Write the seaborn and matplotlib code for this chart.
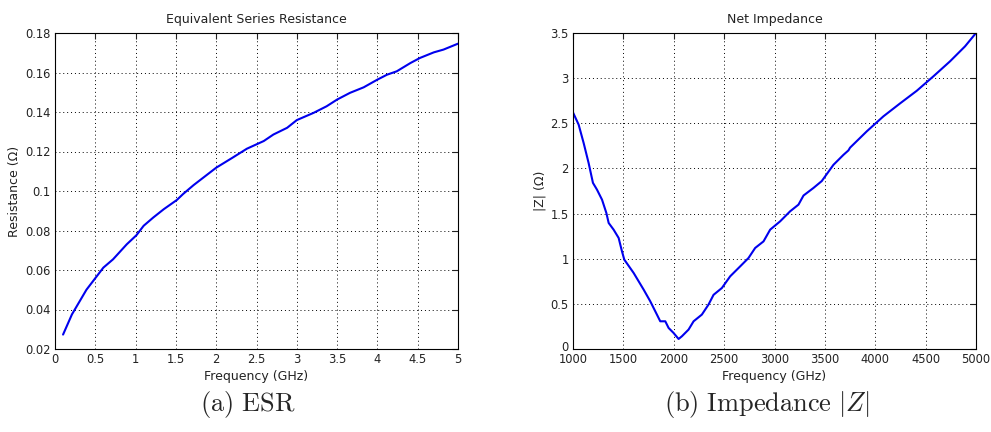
import numpy as np
import pandas as pd
import matplotlib
matplotlib.use("Agg")
import matplotlib.pyplot as plt
import matplotlib.transforms as mtransforms
import seaborn as sns

# ESR data (GHz, Ohm)
esr_freq = [0.10, 0.21, 0.39, 0.60, 0.72, 0.89, 1.01, 1.10, 1.22, 1.35, 1.51, 1.59, 1.72,
            2.00, 2.20, 2.38, 2.59, 2.71, 2.88, 3.00, 3.21, 3.37, 3.50, 3.66, 3.83, 4.00,
            4.12, 4.24, 4.41, 4.53, 4.70, 4.82, 5.00]
esr_res = [0.0273, 0.0375, 0.0500, 0.0612, 0.0654, 0.0730, 0.0776, 0.0824, 0.0866, 0.0908,
           0.0954, 0.0985, 0.1030, 0.1118, 0.1168, 0.1214, 0.1253, 0.1286, 0.1320, 0.1359,
           0.1396, 0.1429, 0.1463, 0.1497, 0.1525, 0.1564, 0.1589, 0.1606, 0.1648, 0.1674,
           0.1702, 0.1716, 0.1746]

# Impedance data (GHz, Ohm)
imp_freq = [1000, 1056, 1106, 1155, 1198, 1238, 1288, 1331, 1354, 1403, 1453, 1486, 1509,
            1602, 1701, 1767, 1833, 1866, 1916, 1949, 1998, 2048, 2081, 2147, 2197, 2279,
            2345, 2395, 2478, 2560, 2660, 2742, 2808, 2891, 2957, 3056, 3155, 3238, 3288,
            3387, 3469, 3585, 3684, 3734, 3750, 3916, 4081, 4246, 4412, 4577, 4742, 4891, 5000]
imp_mag = [2.62, 2.485, 2.28, 2.06, 1.84, 1.765, 1.654, 1.507, 1.396, 1.322, 1.23, 1.082, 0.99,
           0.842, 0.658, 0.528, 0.381, 0.307, 0.307, 0.233, 0.178, 0.111, 0.141, 0.215, 0.307,
           0.381, 0.492, 0.600, 0.676, 0.805, 0.916, 1.008, 1.119, 1.192, 1.322, 1.414, 1.525,
           1.599, 1.70, 1.784, 1.860, 2.040, 2.150, 2.200, 2.230, 2.411, 2.577, 2.720, 2.860,
           3.02, 3.186, 3.352, 3.5]

esr_xticks = [0, 0.5, 1, 1.5, 2, 2.5, 3, 3.5, 4, 4.5, 5]
esr_yticks = [0.02, 0.04, 0.06, 0.08, 0.1, 0.12, 0.14, 0.16, 0.18]
esr_yticklabels = ["0.02", "0.04", "0.06", "0.08", "0.1", "0.12", "0.14", "0.16", "0.18"]
imp_xticks = [1000, 1500, 2000, 2500, 3000, 3500, 4000, 4500, 5000]
imp_yticks = [0, 0.5, 1, 1.5, 2, 2.5, 3, 3.5]
imp_yticklabels = ["0", "0.5", "1", "1.5", "2", "2.5", "3", "3.5"]

sns.set_style("white")
plt.rcParams['font.family'] = ['DejaVu Sans']
plt.rcParams['mathtext.fontset'] = 'cm'

df_esr = pd.DataFrame({"f": esr_freq, "r": esr_res})
df_imp = pd.DataFrame({"f": imp_freq, "z": imp_mag})

fig = plt.figure(figsize=(9.91, 4.32), dpi=100)
W, H = 991, 432
ax1 = fig.add_axes([55 / W, 1 - 349 / H, (458 - 55) / W, (349 - 33) / H])
ax2 = fig.add_axes([573 / W, 1 - 349 / H, (976 - 573) / W, (349 - 33) / H])

blue = "#0000ee"
sns.lineplot(data=df_esr, x="f", y="r", ax=ax1, color=blue, linewidth=1.5)
sns.lineplot(data=df_imp, x="f", y="z", ax=ax2, color=blue, linewidth=1.5)

fs = 8.3
lfs = 9
tc = "#222222"
for ax in (ax1, ax2):
    for s in ax.spines.values():
        s.set_color("black")
        s.set_linewidth(0.8)
    ax.grid(True, linestyle=(0, (1, 3)), color="black", linewidth=0.7)
    ax.tick_params(direction="in", length=4, width=0.8, top=True, right=True,
                   labelsize=fs, colors=tc, pad=3)

ax1.set_xlim(0, 5)
ax1.set_ylim(0.02, 0.18)
ax1.set_xticks(esr_xticks)
ax1.set_xticklabels([f"{t:g}" for t in esr_xticks])
ax1.set_yticks(esr_yticks)
ax1.set_yticklabels(esr_yticklabels)
ax1.set_title("Equivalent Series Resistance", fontsize=lfs, pad=7, color=tc)
ax1.set_xlabel("Frequency (GHz)", fontsize=lfs, labelpad=3, color=tc)
ax1.set_ylabel("Resistance (Ω)", fontsize=lfs, labelpad=3, color=tc)

ax2.set_xlim(1000, 5000)
ax2.set_ylim(0, 3.5)
ax2.set_xticks(imp_xticks)
ax2.set_xticklabels([str(t) for t in imp_xticks])
ax2.set_yticks(imp_yticks)
ax2.set_yticklabels(imp_yticklabels)
ax2.set_title("Net Impedance", fontsize=lfs, pad=7, color=tc)
ax2.set_xlabel("Frequency (GHz)", fontsize=lfs, labelpad=3, color=tc)
ax2.set_ylabel("|Z| (Ω)", fontsize=lfs, labelpad=3, color=tc)

# nudge the "0" y label up slightly so it clears the "1000" x label (as in the reference)
fig.canvas.draw()
ylab0 = ax2.get_yticklabels()[0]
ylab0.set_transform(ylab0.get_transform() + mtransforms.ScaledTranslation(0, 3 / 100, fig.dpi_scale_trans))

fig.text(248 / W, 1 - 405 / H, r"$\mathrm{(a)\ ESR}$", ha="center", va="center", fontsize=19)
fig.text(767 / W, 1 - 405 / H, r"$\mathrm{(b)\ Impedance}\ |Z|$", ha="center", va="center", fontsize=19)

fig.savefig("out.png", dpi=100, facecolor="white")
